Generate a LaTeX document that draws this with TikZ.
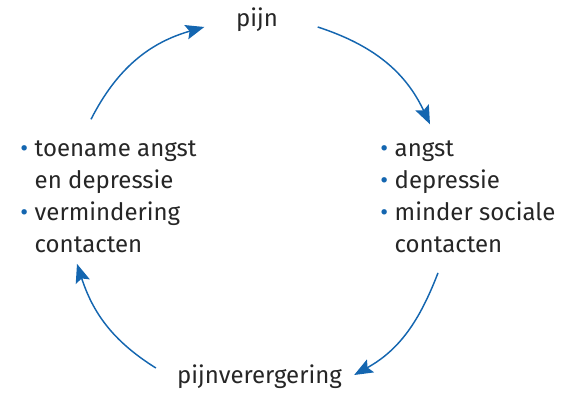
\documentclass[tikz,border=0pt]{standalone}
\usepackage{fontspec}
\setmainfont{Fira Sans}
\usetikzlibrary{arrows.meta}
\definecolor{pijlblauw}{RGB}{20,102,176}
\tikzset{
  pijl/.style={draw=pijlblauw, line width=1.1pt, -{Stealth[length=14pt,width=11pt,inset=2.5pt]}},
  tekst/.style={inner sep=0pt, font=\fontsize{18}{24}\selectfont, text=black!85},
}
\newcommand{\bol}{{\color{pijlblauw}\textbullet}}

\begin{document}
\begin{tikzpicture}[x=0.75pt,y=0.75pt]
\useasboundingbox (0,0) rectangle (566,392);

\node[tekst, anchor=base] (pijn) at (257,365) {pijn};
\node[tekst, anchor=base] (erger) at (259.5,9) {pijnverergering};
\node[tekst, anchor=base west] (links) at (20,235) {\begin{tabular}[t]{@{}l@{\hspace{5pt}}l@{}}
  \bol & toename angst\\
       & en depressie\\
  \bol & vermindering\\
       & contacten
\end{tabular}};
\node[tekst, anchor=base west] (rechts) at (380,235) {\begin{tabular}[t]{@{}l@{\hspace{5pt}}l@{}}
  \bol & angst\\
  \bol & depressie\\
  \bol & minder sociale\\
       & contacten
\end{tabular}};

\draw[pijl] ([shift={(71,15)}]links.north west) to[out=63,in=196] ([shift={(-31.5,0)}]pijn.base west);
\draw[pijl] ([shift={(39.5,0)}]pijn.base east) to[out=-18,in=115] ([shift={(50,10)}]rechts.north west);
\draw[pijl] ([shift={(58,-10)}]rechts.south west) to[out=-111,in=29] ([shift={(12,8)}]erger.base east);
\draw[pijl] ([shift={(-21,15)}]erger.base west) to[out=148,in=-72] ([shift={(57,-1)}]links.south west);

\end{tikzpicture}
\end{document}
